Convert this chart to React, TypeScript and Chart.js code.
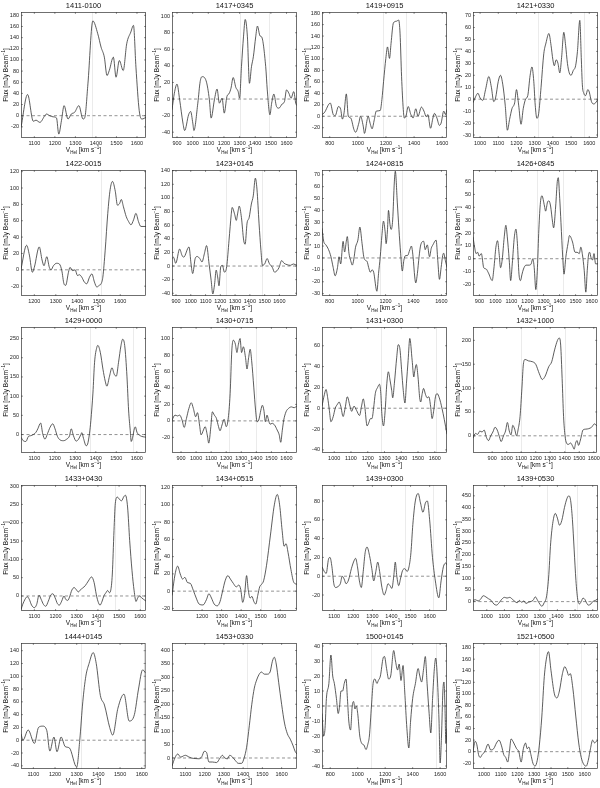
import React, { useEffect, useRef } from "react";
import { Chart, registerables } from "chart.js";
Chart.register(...registerables);

const FONT = "'Liberation Sans', Arial, Helvetica, sans-serif";

const panelNames = [
  "1411-0100", "1417+0345", "1419+0915", "1421+0330",
  "1422-0015", "1423+0145", "1424+0815", "1426+0845",
  "1429+0000", "1430+0715", "1431+0300", "1432+1000",
  "1433+0430", "1434+0515", "1439+0300", "1439+0530",
  "1444+0145", "1453+0330", "1500+0145", "1521+0500",
];

const xRanges = [
  [1035, 1644], [868, 1667], [745, 1634], [961, 1648],
  [1138, 1720], [873, 1719], [745, 1640], [860, 1640],
  [1035, 1645], [840, 1670], [927, 1673], [768, 1623],
  [1037, 1627], [1046, 1686], [1036, 1691], [922, 1630],
  [1043, 1618], [1030, 1680], [740, 1650], [935, 1680],
];

const yRanges = [
  [-40, 186], [-47, 105], [-38, 182], [-32.5, 73],
  [-32, 122], [-44, 141], [-32, 74], [-29, 69],
  [-48, 280], [-39, 114], [-43, 78], [-36, 228],
  [-41, 303], [-23, 123], [-37, 97], [-40, 496],
  [-45, 152], [-41, 428], [-42, 42], [-30, 188],
];

const ticks100a = [1100, 1200, 1300, 1400, 1500, 1600];
const ticks100b = [900, 1000, 1100, 1200, 1300, 1400, 1500, 1600];
const ticks100c = [1000, 1100, 1200, 1300, 1400, 1500, 1600];
const ticks100d = [1200, 1300, 1400, 1500, 1600];
const ticks200 = [800, 1000, 1200, 1400, 1600];

const xTicks = [
  ticks100a, ticks100b, ticks200, ticks100c,
  ticks100d, ticks100b, ticks200, ticks100b,
  ticks100a, ticks100b, ticks100c, ticks100b,
  ticks100a, ticks100d, ticks100a, ticks100c,
  ticks100a, ticks100a, ticks200, ticks100c,
];

const yTicks = [
  [-20, 0, 20, 40, 60, 80, 100, 120, 140, 160, 180],
  [-40, -20, 0, 20, 40, 60, 80, 100],
  [-20, 0, 20, 40, 60, 80, 100, 120, 140, 160, 180],
  [-30, -20, -10, 0, 10, 20, 30, 40, 50, 60, 70],
  [-20, 0, 20, 40, 60, 80, 100, 120],
  [-40, -20, 0, 20, 40, 60, 80, 100, 120, 140],
  [-30, -20, -10, 0, 10, 20, 30, 40, 50, 60, 70],
  [-20, -10, 0, 10, 20, 30, 40, 50, 60],
  [0, 50, 100, 150, 200, 250],
  [-20, 0, 20, 40, 60, 80, 100],
  [-40, -20, 0, 20, 40, 60],
  [0, 50, 100, 150, 200],
  [0, 50, 100, 150, 200, 250, 300],
  [-20, 0, 20, 40, 60, 80, 100, 120],
  [-20, 0, 20, 40, 60, 80],
  [0, 50, 100, 150, 200, 250, 300, 350, 400, 450],
  [-40, -20, 0, 20, 40, 60, 80, 100, 120, 140],
  [0, 50, 100, 150, 200, 250, 300, 350, 400],
  [-40, -30, -20, -10, 0, 10, 20, 30, 40],
  [-20, 0, 20, 40, 60, 80, 100, 120, 140, 160, 180],
];

const markers = [
  [1380, 1640], [1300, 1490], [1180, 1340], [1320, 1570],
  [1510], [1240, 1480], [1160, 1320], [1260, 1420],
  [1370, 1580], [1220, 1400], [1280, 1610], [1100, 1400],
  [1480, 1600], [1500], [1470, 1620], [1340, 1510],
  [1320], [1420], [1100, 1570], [1330, 1580],
];

const vel_1411_0100 = [1035,1067,1095,1108,1127,1151,1159,1175,1191,1208,1219,1232,1245,1264,1280,1296,1317,1337,1346,1361,1385,1409,1425,1441,1454,1465,1485,1498,1514,1533,1550,1570,1583,1595,1611,1624,1644];
const flux_1411_0100 = [-21,38,-10,-8,-12,0,3,0,-2,-4,-33,-9,18,-6,3,6,18,-6,-3,57,170,147,123,105,72,81,105,69,99,81,129,150,162,87,9,-6,-3];

const vel_1417_0345 = [868,883,900,917,938,949,974,987,1001,1008,1033,1048,1060,1086,1107,1118,1139,1156,1171,1188,1202,1219,1234,1245,1259,1276,1291,1300,1312,1325,1336,1350,1363,1376,1388,1403,1414,1431,1441,1467,1477,1494,1505,1519,1536,1551,1572,1587,1600,1615,1629,1646,1659,1667];
const flux_1417_0345 = [-13,7,18,-1,-29,-38,-19,-15,-29,-38,-5,21,27,22,-1,-23,-1,12,-5,1,-17,3,7,13,26,14,9,1,39,75,96,75,19,39,51,75,88,76,75,39,11,-19,-5,6,-9,-11,-6,-3,11,7,1,9,-5,-8];

const vel_1419_0915 = [745,761,804,825,839,862,878,890,902,918,932,949,972,984,1007,1019,1038,1047,1066,1073,1089,1101,1117,1131,1159,1171,1183,1199,1211,1225,1236,1253,1276,1290,1300,1311,1323,1330,1342,1358,1377,1393,1412,1428,1452,1470,1487,1498,1517,1534,1545,1562,1580,1592,1611,1623,1634];
const flux_1419_0915 = [3,6,23,3,1,17,12,-5,6,39,0,-3,-23,-28,-12,0,-17,-30,-6,0,-14,-22,-6,9,10,29,61,101,121,101,127,163,166,168,145,69,12,-3,0,17,3,-3,13,0,16,9,-1,3,-21,-3,5,-3,-16,-12,9,3,12];

const vel_1421_0330 = [961,975,988,1000,1015,1030,1048,1062,1075,1085,1100,1112,1125,1138,1150,1162,1175,1190,1200,1212,1225,1237,1250,1262,1275,1285,1295,1303,1312,1322,1335,1350,1362,1378,1390,1400,1408,1418,1428,1438,1448,1460,1470,1480,1490,1500,1512,1525,1535,1548,1556,1562,1570,1580,1592,1600,1612,1625,1635,1648];
const flux_1421_0330 = [-3,2,5,1,-1,8,19,10,-2,1,15,20,12,-5,-26,-17,-8,-3,8,-5,-21,-8,0,3,20,27,15,-5,-16,-12,10,38,47,55,45,33,28,33,30,22,35,56,45,30,22,20,24,28,40,66,35,12,5,3,8,6,-2,-4,-3,0];

const vel_1422_0015 = [1138,1164,1177,1191,1200,1223,1236,1245,1258,1270,1278,1289,1304,1317,1328,1338,1346,1359,1366,1379,1390,1401,1410,1421,1433,1444,1457,1468,1480,1491,1502,1511,1519,1530,1542,1553,1564,1577,1587,1597,1605,1615,1628,1639,1650,1662,1673,1685,1696,1720];
const flux_1422_0015 = [1,30,18,-3,3,28,12,5,16,3,0,5,8,7,-1,-17,-19,-3,3,-1,0,-7,-6,-9,-15,-17,-9,-5,-15,-21,-19,-17,-9,24,69,98,108,96,79,81,86,77,65,59,55,61,69,59,53,53];

const vel_1423_0145 = [873,883,898,925,940,952,988,1002,1013,1030,1044,1061,1076,1092,1107,1124,1138,1149,1161,1172,1182,1191,1203,1214,1228,1243,1259,1274,1280,1297,1308,1318,1328,1343,1358,1368,1381,1395,1410,1423,1437,1448,1462,1475,1485,1500,1517,1531,1552,1567,1583,1598,1615,1632,1652,1674,1694,1719];
const flux_1423_0145 = [11,13,4,25,16,13,28,3,-11,11,14,11,6,18,30,3,-21,-41,-27,-6,-16,-29,-1,1,-9,-1,38,76,86,76,67,78,88,71,38,32,63,71,91,103,129,113,63,23,1,3,11,4,-2,-9,-7,-2,8,4,2,1,3,1];

const vel_1424_0815 = [745,757,773,792,809,825,839,856,867,879,896,907,919,926,938,950,962,973,985,1002,1016,1032,1044,1056,1068,1079,1091,1103,1115,1138,1150,1162,1174,1185,1197,1204,1214,1221,1232,1240,1251,1263,1270,1284,1296,1308,1320,1331,1343,1357,1374,1385,1397,1409,1416,1428,1440,1452,1473,1484,1499,1515,1527,1539,1562,1574,1586,1598,1609,1616,1628,1640];
const flux_1424_0815 = [25,14,11,7,1,-8,-15,-8,1,-5,14,5,14,18,4,-2,-6,-1,9,15,26,12,1,-2,-3,-8,-12,-10,-12,-28,-13,1,19,31,22,12,24,40,28,24,32,64,73,47,24,4,-11,-2,2,2,7,10,1,-16,-21,-13,1,11,14,7,11,1,8,11,15,-2,-18,-8,2,4,-2,-8];

const vel_1426_0845 = [860,870,879,889,898,912,927,942,956,980,990,1003,1013,1023,1032,1042,1055,1065,1074,1086,1095,1105,1118,1128,1137,1147,1156,1166,1175,1191,1210,1223,1233,1242,1252,1262,1271,1281,1290,1306,1313,1325,1334,1344,1357,1363,1376,1386,1392,1401,1409,1420,1428,1439,1453,1462,1481,1497,1510,1523,1533,1543,1554,1564,1573,1581,1588,1596,1606,1615,1625,1640];
const flux_1426_0845 = [17,9,4,5,2,4,-7,-8,-11,-17,-8,9,14,4,-7,-1,17,26,17,-1,-17,-4,17,23,12,-12,-17,-12,-8,-5,-5,-4,0,-7,-24,-7,23,44,49,41,37,44,45,41,28,24,41,60,63,47,28,1,-12,1,12,18,13,5,5,4,9,3,-9,-26,-9,3,5,1,-1,4,-4,-4];

const vel_1429_0000 = [1035,1046,1059,1071,1082,1095,1108,1117,1131,1141,1152,1164,1177,1190,1201,1213,1226,1242,1258,1272,1280,1291,1304,1316,1327,1332,1340,1353,1360,1369,1376,1386,1394,1405,1410,1422,1435,1446,1454,1467,1479,1490,1500,1511,1523,1531,1541,1552,1560,1568,1573,1580,1588,1593,1601,1617,1645];
const flux_1429_0000 = [-7,-16,-18,-5,-3,0,6,15,30,2,-12,2,19,28,15,-5,-14,-16,-12,-3,15,-3,-17,-12,0,5,-10,-29,-25,2,37,108,188,227,232,214,170,139,126,152,174,157,152,188,232,248,232,152,64,11,-18,-7,15,20,6,-3,-7];

const vel_1430_0715 = [840,860,877,891,907,921,936,952,968,982,997,1009,1023,1033,1049,1060,1074,1084,1098,1108,1121,1135,1149,1159,1172,1186,1200,1212,1226,1237,1247,1261,1271,1281,1292,1302,1314,1328,1338,1349,1359,1369,1383,1395,1405,1416,1430,1440,1450,1460,1471,1481,1491,1505,1521,1538,1552,1562,1572,1582,1597,1613,1633,1650,1670];
const flux_1430_0715 = [1,7,6,7,1,-8,3,15,22,15,5,10,-5,-17,-11,-7,-17,-27,-7,11,7,3,-7,-12,-5,2,-7,1,33,85,98,93,83,93,100,83,90,77,63,77,87,73,41,13,-1,1,13,19,13,-1,7,1,-4,-3,-5,-11,-17,-26,-12,1,11,15,17,16,18];

const vel_1431_0300 = [927,941,951,961,971,980,994,1006,1020,1029,1039,1053,1065,1078,1094,1104,1118,1133,1151,1163,1173,1182,1196,1206,1216,1225,1235,1245,1259,1270,1278,1284,1294,1304,1314,1323,1333,1343,1349,1359,1373,1382,1392,1402,1412,1422,1431,1441,1451,1465,1475,1480,1490,1500,1510,1516,1525,1533,1545,1555,1565,1575,1584,1594,1604,1614,1627,1643,1657,1673];
const flux_1431_0300 = [2,13,18,10,-2,-13,-8,0,4,6,2,-8,0,11,2,-3,2,-2,-7,2,9,2,-17,-14,-10,-10,0,14,20,23,14,-5,-17,-2,24,35,27,17,10,24,49,61,57,37,17,5,24,46,67,46,30,35,42,30,10,6,14,19,13,10,11,2,-10,-2,11,14,10,0,-11,-25];

const vel_1432_1000 = [768,785,800,815,830,845,860,875,890,905,920,935,950,962,978,992,1005,1018,1030,1042,1055,1068,1080,1092,1105,1115,1127,1150,1180,1200,1225,1245,1265,1290,1310,1330,1350,1362,1372,1382,1392,1402,1412,1425,1440,1455,1465,1475,1485,1495,1505,1515,1525,1545,1565,1585,1605,1623];
const flux_1432_1000 = [-5,5,3,10,8,12,-3,-10,0,8,18,12,-2,-12,0,10,28,10,2,22,14,0,15,40,100,150,160,157,155,150,130,118,125,145,155,180,200,205,190,120,40,0,-15,-18,-15,-22,-28,-15,-10,-20,-12,0,12,14,15,18,25,20];

const vel_1433_0430 = [1037,1045,1056,1067,1076,1087,1100,1111,1122,1132,1143,1154,1166,1177,1187,1198,1209,1218,1229,1240,1248,1258,1266,1277,1288,1297,1308,1316,1340,1355,1370,1382,1392,1400,1410,1420,1428,1438,1446,1454,1460,1468,1476,1482,1492,1503,1512,1522,1530,1540,1550,1561,1571,1580,1588,1598,1606,1615,1627];
const flux_1433_0430 = [-37,-23,-9,-2,-9,-25,-32,-23,2,-9,-23,-28,-14,2,6,-5,-21,-25,-14,0,-9,-12,-3,16,23,18,11,16,28,41,52,37,5,-14,-25,-14,0,9,15,9,14,60,179,252,270,263,260,271,275,243,151,69,14,-15,-5,0,-5,-9,-14];

const vel_1434_0515 = [1046,1062,1075,1088,1100,1112,1125,1140,1155,1170,1185,1205,1222,1235,1248,1262,1278,1292,1305,1318,1332,1345,1360,1375,1388,1398,1408,1418,1428,1436,1446,1455,1465,1475,1485,1495,1505,1515,1530,1550,1570,1585,1597,1610,1620,1630,1640,1655,1670,1686];
const flux_1434_0515 = [-5,20,29,20,14,16,10,9,1,-8,-15,-16,-10,-3,-8,-15,-17,-12,0,12,18,14,9,5,7,2,-13,-3,18,2,-8,-6,-12,-15,-5,5,8,12,30,65,100,112,100,70,52,55,45,25,10,8];

const vel_1439_0300 = [1036,1048,1058,1070,1078,1088,1098,1108,1120,1132,1142,1152,1162,1175,1190,1205,1212,1222,1232,1242,1252,1262,1272,1285,1297,1307,1318,1328,1338,1350,1362,1372,1382,1392,1402,1412,1420,1428,1438,1448,1458,1470,1482,1492,1502,1512,1525,1540,1552,1565,1578,1588,1600,1615,1630,1648,1660,1672,1685,1691];
const flux_1439_0300 = [10,5,3,18,20,10,-8,-12,-11,-8,0,-3,-8,-4,8,17,19,10,-5,-12,5,25,31,22,8,-5,5,15,5,-12,-20,-15,-8,-10,-13,0,15,0,-10,-2,6,8,5,10,25,55,80,88,78,68,78,80,60,20,-5,-23,-5,10,14,12];

const vel_1439_0530 = [922,935,950,965,980,995,1010,1025,1040,1055,1070,1085,1100,1115,1130,1145,1160,1172,1185,1198,1210,1222,1235,1248,1262,1275,1288,1300,1312,1325,1338,1350,1362,1375,1388,1400,1412,1425,1440,1455,1465,1475,1485,1495,1505,1515,1525,1535,1545,1555,1565,1575,1590,1600,1615,1630];
const flux_1439_0530 = [5,8,3,10,25,20,12,5,-10,-15,-5,10,18,15,18,10,0,-5,5,-3,3,-8,-3,0,5,20,5,-10,-20,-5,20,100,250,340,375,355,325,345,400,440,450,430,350,220,90,10,-10,0,15,10,-5,-15,-10,0,5,12];

const vel_1444_0145 = [1043,1052,1076,1105,1124,1143,1162,1176,1195,1209,1228,1247,1266,1300,1314,1328,1342,1357,1376,1390,1409,1428,1452,1466,1490,1518,1542,1566,1585,1604,1618];
const flux_1444_0145 = [10,0,16,-5,20,22,15,-17,5,-18,5,-10,-12,-42,0,60,100,120,137,120,70,55,20,8,50,72,30,40,80,110,105];

const vel_1453_0330 = [1030,1045,1060,1075,1090,1100,1115,1130,1150,1170,1185,1198,1210,1222,1240,1262,1280,1292,1305,1318,1330,1345,1360,1375,1392,1405,1418,1432,1445,1458,1470,1482,1495,1510,1525,1540,1552,1562,1572,1585,1600,1615,1630,1645,1660,1670,1680];
const flux_1453_0330 = [-30,0,15,3,8,10,5,0,-2,-3,5,25,20,-15,-15,-17,0,10,0,-3,10,3,-10,-20,-20,0,40,120,200,260,290,310,320,312,312,320,360,375,350,280,200,130,90,70,45,25,15];

const vel_1500_0145 = [740,752,762,772,790,805,818,830,845,858,868,878,890,902,915,925,935,948,960,970,980,990,1000,1015,1030,1045,1060,1075,1085,1100,1112,1125,1140,1150,1165,1185,1195,1210,1225,1240,1262,1275,1290,1302,1315,1330,1342,1358,1372,1385,1400,1420,1440,1452,1465,1480,1492,1505,1520,1532,1545,1558,1568,1580,1592,1600,1610,1620,1628,1635,1642,1650];
const flux_1500_0145 = [-5,-20,-15,5,15,34,20,15,5,-5,0,10,10,15,18,5,-10,-16,0,3,-2,0,-5,-20,-25,-26,-29,-25,-20,0,15,18,15,17,20,32,33,25,18,20,37,30,24,28,17,27,10,-15,-28,-10,5,15,25,20,16,25,33,15,-5,-18,5,25,32,18,-10,-38,-20,10,16,0,-25,-15];

const vel_1521_0500 = [935,948,958,968,978,990,1005,1025,1040,1058,1075,1090,1105,1118,1130,1142,1152,1162,1178,1195,1208,1222,1235,1248,1258,1268,1280,1292,1305,1318,1330,1345,1360,1375,1385,1400,1420,1435,1450,1468,1482,1495,1505,1515,1530,1548,1565,1580,1595,1610,1622,1635,1648,1660,1670,1680];
const flux_1521_0500 = [0,18,12,-5,-10,-5,0,13,3,5,15,20,10,-5,-10,-18,0,22,15,5,0,-18,5,15,5,8,-5,-20,-25,-15,10,60,130,165,173,140,100,93,105,135,147,140,132,135,110,60,15,-10,-22,-25,-15,5,20,15,18,20];

const series = [
  [vel_1411_0100, flux_1411_0100], [vel_1417_0345, flux_1417_0345],
  [vel_1419_0915, flux_1419_0915], [vel_1421_0330, flux_1421_0330],
  [vel_1422_0015, flux_1422_0015], [vel_1423_0145, flux_1423_0145],
  [vel_1424_0815, flux_1424_0815], [vel_1426_0845, flux_1426_0845],
  [vel_1429_0000, flux_1429_0000], [vel_1430_0715, flux_1430_0715],
  [vel_1431_0300, flux_1431_0300], [vel_1432_1000, flux_1432_1000],
  [vel_1433_0430, flux_1433_0430], [vel_1434_0515, flux_1434_0515],
  [vel_1439_0300, flux_1439_0300], [vel_1439_0530, flux_1439_0530],
  [vel_1444_0145, flux_1444_0145], [vel_1453_0330, flux_1453_0330],
  [vel_1500_0145, flux_1500_0145], [vel_1521_0500, flux_1521_0500],
];

type Part = { t: string; s: number; dy: number };

function drawParts(ctx: CanvasRenderingContext2D, parts: Part[], x: number, y: number) {
  let w = 0;
  for (const p of parts) {
    ctx.font = `${p.s}px ${FONT}`;
    w += ctx.measureText(p.t).width;
  }
  let cx = x - w / 2;
  ctx.textAlign = "left";
  ctx.textBaseline = "alphabetic";
  for (const p of parts) {
    ctx.font = `${p.s}px ${FONT}`;
    ctx.fillText(p.t, cx, y + p.dy);
    cx += ctx.measureText(p.t).width;
  }
}

const CW = 150;
const CH = 157;

function Panel({ idx }: { idx: number }) {
  const ref = useRef<HTMLCanvasElement | null>(null);
  useEffect(() => {
    const canvas = ref.current;
    if (!canvas) return;
    const [vx, fy] = series[idx];
    const pts = vx.map((v, i) => ({ x: v, y: fy[i] }));
    const [xmin, xmax] = xRanges[idx];
    const [ymin, ymax] = yRanges[idx];
    const xt = xTicks[idx];
    const yt = yTicks[idx];
    const mk = markers[idx];
    const name = panelNames[idx];

    const deco = {
      id: "deco" + idx,
      beforeDatasetsDraw(chart: any) {
        const ctx = chart.ctx as CanvasRenderingContext2D;
        const ca = chart.chartArea;
        const xs = chart.scales.x;
        const ys = chart.scales.y;
        ctx.save();
        ctx.beginPath();
        ctx.rect(ca.left, ca.top, ca.right - ca.left, ca.bottom - ca.top);
        ctx.clip();
        ctx.strokeStyle = "#e2e2e2";
        ctx.lineWidth = 0.7;
        for (const m of mk) {
          const px = Math.round(xs.getPixelForValue(m)) + 0.5;
          ctx.beginPath();
          ctx.moveTo(px, ca.top);
          ctx.lineTo(px, ca.bottom);
          ctx.stroke();
        }
        const y0 = ys.getPixelForValue(0);
        ctx.strokeStyle = "#777";
        ctx.lineWidth = 0.8;
        ctx.setLineDash([3, 2.5]);
        ctx.beginPath();
        ctx.moveTo(xs.getPixelForValue(xmin), y0);
        ctx.lineTo(xs.getPixelForValue(xmax), y0);
        ctx.stroke();
        ctx.restore();
      },
      afterDraw(chart: any) {
        const ctx = chart.ctx as CanvasRenderingContext2D;
        const ca = chart.chartArea;
        const xs = chart.scales.x;
        const ys = chart.scales.y;
        ctx.save();
        ctx.strokeStyle = "#333";
        ctx.lineWidth = 0.7;
        ctx.strokeRect(ca.left + 0.5, ca.top + 0.5, ca.right - ca.left - 1, ca.bottom - ca.top - 1);
        ctx.lineWidth = 0.5;
        ctx.beginPath();
        for (const v of xt) {
          const px = xs.getPixelForValue(v);
          ctx.moveTo(px, ca.bottom);
          ctx.lineTo(px, ca.bottom - 2);
          ctx.moveTo(px, ca.top);
          ctx.lineTo(px, ca.top + 2);
        }
        for (const v of yt) {
          const py = ys.getPixelForValue(v);
          ctx.moveTo(ca.left, py);
          ctx.lineTo(ca.left + 2, py);
          ctx.moveTo(ca.right, py);
          ctx.lineTo(ca.right - 2, py);
        }
        ctx.stroke();
        ctx.fillStyle = "#111";
        const cx = (ca.left + ca.right) / 2;
        ctx.font = `7.5px ${FONT}`;
        ctx.textAlign = "center";
        ctx.textBaseline = "middle";
        ctx.fillText(name, cx, 5.5);
        drawParts(ctx, [
          { t: "V", s: 6.5, dy: 0 },
          { t: "Hel", s: 4.5, dy: 1.8 },
          { t: " [km s", s: 6.5, dy: 0 },
          { t: "−1", s: 4.5, dy: -2.6 },
          { t: "]", s: 6.5, dy: 0 },
        ], cx, ca.bottom + 14);
        ctx.translate(8, (ca.top + ca.bottom) / 2);
        ctx.rotate(-Math.PI / 2);
        drawParts(ctx, [
          { t: "Flux [mJy Beam", s: 6.5, dy: 0 },
          { t: "−1", s: 4.5, dy: -2.6 },
          { t: "]", s: 6.5, dy: 0 },
        ], 0, 0);
        ctx.restore();
      },
    };

    const chart = new Chart(canvas, {
      type: "line",
      data: {
        datasets: [
          {
            data: pts,
            borderColor: "#333",
            borderWidth: 0.8,
            pointRadius: 0,
            fill: false,
            cubicInterpolationMode: "monotone",
          },
        ],
      },
      options: {
        animation: false,
        responsive: false,
        devicePixelRatio: 1,
        layout: { padding: { top: 12, left: 0, right: 4, bottom: 0 } },
        plugins: {
          legend: { display: false },
          tooltip: { enabled: false },
          title: { display: false },
        },
        scales: {
          x: {
            type: "linear",
            min: xmin,
            max: xmax,
            afterBuildTicks: (s: any) => {
              s.ticks = xt.map((v) => ({ value: v }));
            },
            afterFit: (s: any) => {
              s.height = 19;
            },
            grid: { display: false, drawTicks: false },
            border: { display: false },
            ticks: {
              autoSkip: false,
              maxRotation: 0,
              padding: 2,
              color: "#222",
              font: { size: 5.5, family: FONT },
              callback: (v: any) => String(v),
            },
          },
          y: {
            type: "linear",
            min: ymin,
            max: ymax,
            afterBuildTicks: (s: any) => {
              s.ticks = yt.map((v) => ({ value: v }));
            },
            afterFit: (s: any) => {
              s.width = 21;
            },
            grid: { display: false, drawTicks: false },
            border: { display: false },
            ticks: {
              autoSkip: false,
              padding: 2,
              color: "#222",
              font: { size: 5.5, family: FONT },
              callback: (v: any) => String(v),
            },
          },
        },
      } as any,
      plugins: [deco],
    });
    return () => chart.destroy();
  }, [idx]);

  const col = idx % 4;
  const row = Math.floor(idx / 4);
  return (
    <canvas
      ref={ref}
      width={CW}
      height={CH}
      style={{
        position: "absolute",
        left: Math.round(col * 150.5),
        top: Math.round(row * 157.7),
        width: CW,
        height: CH,
      }}
    />
  );
}

export default function App() {
  return (
    <div
      style={{
        position: "absolute",
        left: 0,
        top: 0,
        width: 600,
        height: 788,
        overflow: "hidden",
        background: "#fff",
      }}
    >
      {panelNames.map((_, i) => (
        <Panel key={i} idx={i} />
      ))}
    </div>
  );
}
